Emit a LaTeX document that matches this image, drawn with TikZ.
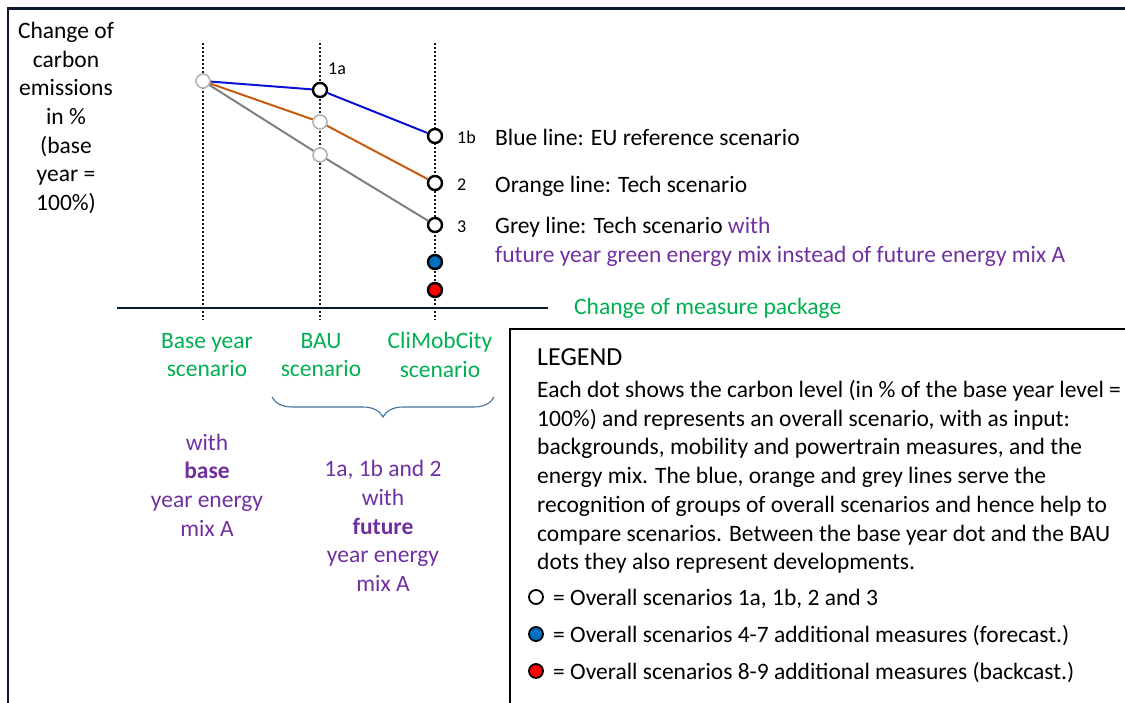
\documentclass[tikz,border=0pt]{standalone}
\usepackage{fontspec}
\setmainfont{Carlito}
\usetikzlibrary{positioning, decorations.pathreplacing}

\definecolor{frameblue}{HTML}{0D1B2E}
\definecolor{lineblue}{HTML}{0A14D2}
\definecolor{lineorange}{HTML}{C55A11}
\definecolor{linegrey}{HTML}{808080}
\definecolor{dotblue}{HTML}{0070C0}
\definecolor{dotred}{HTML}{FF0000}
\definecolor{txtgreen}{HTML}{00B050}
\definecolor{txtpurple}{HTML}{7030A0}
\definecolor{bracecol}{HTML}{41719C}

\tikzset{
  bigtext/.style={inner sep=0pt, font=\fontsize{23.5}{28.7}\selectfont},
  smalltext/.style={inner sep=0pt, font=\fontsize{18}{20}\selectfont},
  scendot/.style={circle, draw=black, line width=2.4pt, fill=white, minimum size=14pt, inner sep=0pt},
  greydot/.style={scendot, draw=linegrey!60, line width=1.6pt},
  guide/.style={frameblue, line width=2pt, dotted}
}

\begin{document}
\begin{tikzpicture}[x=1pt,y=-1pt]
\useasboundingbox (0,0) rectangle (1125,703);
% frame and legend box
\draw[frameblue, line width=2.6pt] (8,703) -- (8,8.5) -- (1125,8.5);
\draw[black, line width=2.6pt] (510,703) -- (510,329) -- (1125,329);

% dotted guides
\foreach \n/\x in {base/203, bau/320, cmc/435}{
  \coordinate (\n top) at (\x,43);
  \coordinate (\n bot) at (\x,320);
  \draw[guide] (\n top) -- (\n bot);
}
% axis
\coordinate (axisL) at (117,308);
\coordinate (axisR) at (548,308);
\draw[frameblue, line width=1.6pt] (axisL) -- (axisR);

% scenario dots
\node[greydot] (d0) at (203,81) {};
\node[scendot] (d1a) at (320,90) {};
\node[greydot] (dOr) at (320,122) {};
\node[greydot] (dGr) at (320,155) {};
\node[scendot] (d1b) at (435,136) {};
\node[scendot] (d2) at (435,183) {};
\node[scendot] (d3) at (435,225) {};

\draw[lineblue, line width=2pt] (d0) -- (d1a) -- (d1b);
\draw[lineorange, line width=2pt] (d0) -- (dOr) -- (d2);
\draw[linegrey, line width=2pt] (d0) -- (dGr) -- (d3);

\node[scendot, fill=dotblue] (d4) at (435,262) {};
\node[scendot, fill=dotred] (d8) at (435,290) {};

% dot labels
\node[smalltext, anchor=west] (l1a) at (328,69) {1a};
\node[smalltext, anchor=west] (l1b) at (457,137) {1b};
\node[smalltext, anchor=west] (l2) at (457,185) {2};
\node[smalltext, anchor=west] (l3) at (457,227) {3};

% line meaning
\node[bigtext, anchor=west] (tBlue) at (495,137) {Blue line: EU reference scenario};
\node[bigtext, anchor=west] (tOrange) at (495,186) {Orange line: Tech scenario};
\node[bigtext, anchor=west, align=left] (tGrey) at (495,242)
  {Grey line: Tech scenario \textcolor{txtpurple}{with}\\
   \textcolor{txtpurple}{future year green energy mix instead of future energy mix A}};
\node[bigtext, anchor=west, text=txtgreen] (tAxis) at (574,308) {Change of measure package};

% y axis label
\node[bigtext, align=center] (yLab) at (66,118)
  {Change of\\carbon\\emissions\\in \%\\(base\\year =\\100\%)};

% scenario names
\node[bigtext, align=center, text=txtgreen] (sBase) at (207,355) {Base year\\scenario};
\node[bigtext, align=center, text=txtgreen] (sBau) at (321,355) {BAU\\scenario};
\node[bigtext, align=center, text=txtgreen] (sCmc) at (440,355) {CliMobCity\\scenario};

% brace
\coordinate (brL) at (272,397);
\coordinate (brR) at (494,397);
\draw[bracecol, line width=1.1pt,
      decorate, decoration={brace, mirror, amplitude=20pt, aspect=0.5}] (brL) -- (brR);

% energy mix notes
\node[bigtext, align=center, text=txtpurple] (eBase) at (207,485)
  {with\\\textbf{base}\\year energy\\mix A};
\node[bigtext, align=center, text=txtpurple] (eFut) at (383,526)
  {1a, 1b and 2\\with\\\textbf{future}\\year energy\\mix A};

% legend
\node[bigtext, anchor=west, font=\fontsize{26}{30}\selectfont] (legT) at (537,357) {LEGEND};
\node[bigtext, anchor=west, align=left] (legP) at (537,477)
  {Each dot shows the carbon level (in \% of the base year level =\\
   100\%) and represents an overall scenario, with as input:\\
   backgrounds, mobility and powertrain measures, and the\\
   energy mix. The blue, orange and grey lines serve the\\
   recognition of groups of overall scenarios and hence help to\\
   compare scenarios. Between the base year dot and the BAU\\
   dots they also represent developments.};
\node[scendot, line width=1.8pt] (k1) at (536,597) {};
\node[scendot, line width=1.8pt, fill=dotblue] (k2) at (536,634) {};
\node[scendot, line width=1.8pt, fill=dotred] (k3) at (536,671) {};
\node[bigtext, anchor=west] (k1t) at (553,599) {= Overall scenarios 1a, 1b, 2 and 3};
\node[bigtext, anchor=west] (k2t) at (553,636) {= Overall scenarios 4-7 additional measures (forecast.)};
\node[bigtext, anchor=west] (k3t) at (553,673) {= Overall scenarios 8-9 additional measures (backcast.)};
\end{tikzpicture}
\end{document}
